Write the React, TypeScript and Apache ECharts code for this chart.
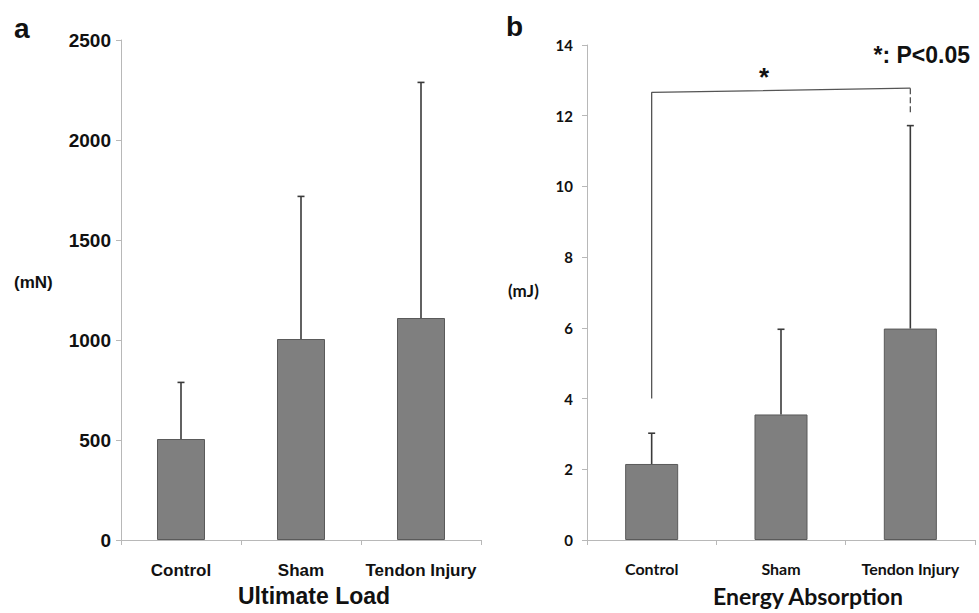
import React, { useEffect, useRef } from "react";
import * as echarts from "echarts";

const categories = ["Control", "Sham", "Tendon Injury"];
const loadCategoryLabels = ["Control", "Sham", "Tendon Injury"];
const loadMeans = [505, 1005, 1110];
const loadUpper = [788, 1718, 2288];
const energyMeans = [2.15, 3.55, 5.98];
const energyUpper = [3.02, 5.96, 11.72];
const loadTicks = { min: 0, max: 2500, interval: 500 };
const energyTicks = { min: 0, max: 14, interval: 2 };
const bracketPath = [[0, 4.0], [0, 12.66], [2, 12.78]];
const bracketDash = [[2, 12.78], [2, 12.05]];

const LEFT_FONT = "'Liberation Sans', Arial, sans-serif";
const RIGHT_FONT = "Lato, 'Open Sans', sans-serif";

function errorSeries(xAxisIndex: number, yAxisIndex: number, means: number[], upper: number[]) {
  return {
    type: "custom",
    xAxisIndex,
    yAxisIndex,
    z: 5,
    data: means.map((m, i) => [i, m, upper[i]]),
    renderItem: (params: any, api: any) => {
      const base = api.coord([api.value(0), api.value(1)]);
      const top = api.coord([api.value(0), api.value(2)]);
      const style = { stroke: "#3a3a3a", lineWidth: 1.6 };
      return {
        type: "group",
        children: [
          { type: "line", shape: { x1: top[0], y1: base[1], x2: top[0], y2: top[1] }, style },
          { type: "line", shape: { x1: top[0] - 3.5, y1: top[1], x2: top[0] + 3.5, y2: top[1] }, style },
        ],
      };
    },
  };
}

export default function App() {
  const ref = useRef<HTMLDivElement>(null);
  useEffect(() => {
    if (!ref.current) return;
    const chart = echarts.init(ref.current, undefined, { renderer: "svg" });
    const axisLine = { show: true, lineStyle: { color: "#b8b8b8", width: 1 } };
    const axisTick = { show: true, length: 5, lineStyle: { color: "#b8b8b8" } };
    chart.setOption({
      animation: false,
      backgroundColor: "#ffffff",
      grid: [
        { left: 121, right: 498, top: 40, bottom: 73 },
        { left: 587, right: 4, top: 45, bottom: 73 },
      ],
      xAxis: [
        {
          type: "category",
          gridIndex: 0,
          data: loadCategoryLabels,
          axisLine,
          axisTick,
          axisLabel: { color: "#111", fontFamily: LEFT_FONT, fontWeight: "bold", fontSize: 17, margin: 22, interval: 0, hideOverlap: false },
        },
        {
          type: "category",
          gridIndex: 1,
          data: categories,
          axisLine,
          axisTick,
          axisLabel: { color: "#111", fontFamily: RIGHT_FONT, fontWeight: "bold", fontSize: 16, margin: 20, interval: 0 },
        },
      ],
      yAxis: [
        {
          type: "value",
          gridIndex: 0,
          min: loadTicks.min,
          max: loadTicks.max,
          interval: loadTicks.interval,
          splitLine: { show: false },
          axisLine,
          axisTick,
          axisLabel: { color: "#111", fontFamily: LEFT_FONT, fontWeight: "bold", fontSize: 19, margin: 10, formatter: (v: number) => String(v) },
        },
        {
          type: "value",
          gridIndex: 1,
          min: energyTicks.min,
          max: energyTicks.max,
          interval: energyTicks.interval,
          splitLine: { show: false },
          axisLine,
          axisTick,
          axisLabel: { color: "#111", fontFamily: RIGHT_FONT, fontWeight: "bold", fontSize: 15, margin: 14 },
        },
      ],
      series: [
        {
          type: "bar",
          xAxisIndex: 0,
          yAxisIndex: 0,
          data: loadMeans,
          barWidth: "40%",
          itemStyle: { color: "#7f7f7f", borderColor: "#5a5a5a", borderWidth: 1 },
        },
        {
          type: "bar",
          xAxisIndex: 1,
          yAxisIndex: 1,
          data: energyMeans,
          barWidth: "41%",
          itemStyle: { color: "#7f7f7f", borderColor: "#5a5a5a", borderWidth: 1 },
        },
        errorSeries(0, 0, loadMeans, loadUpper),
        errorSeries(1, 1, energyMeans, energyUpper),
        {
          type: "line",
          xAxisIndex: 1,
          yAxisIndex: 1,
          data: bracketPath,
          symbol: "none",
          lineStyle: { color: "#555", width: 1.3 },
          z: 6,
        },
        {
          type: "line",
          xAxisIndex: 1,
          yAxisIndex: 1,
          data: bracketDash,
          symbol: "none",
          lineStyle: { color: "#555", width: 1.3, type: [6, 3] },
          z: 6,
        },
      ],
      graphic: [
        { type: "text", left: 14, top: 14, style: { text: "a", font: `bold 28px ${LEFT_FONT}`, fill: "#111" } },
        { type: "text", left: 506, top: 12, style: { text: "b", font: `bold 28px ${LEFT_FONT}`, fill: "#111" } },
        { type: "text", left: 14, top: 274, style: { text: "(mN)", font: `bold 17px ${LEFT_FONT}`, fill: "#111" } },
        { type: "text", left: 508, top: 282, style: { text: "(mJ)", font: `bold 17px ${RIGHT_FONT}`, fill: "#111" } },
        { type: "text", left: 238, top: 584, style: { text: "Ultimate Load", font: `bold 23px ${LEFT_FONT}`, fill: "#111" } },
        { type: "text", left: 713, top: 584, style: { text: "Energy Absorption", font: `bold 23px ${RIGHT_FONT}`, fill: "#111" } },
        { type: "text", left: 759, top: 64, style: { text: "*", font: `bold 26px ${LEFT_FONT}`, fill: "#111" } },
        { type: "text", right: 9, top: 43, style: { text: "*: P<0.05", font: `bold 23px ${LEFT_FONT}`, fill: "#111" } },
      ],
    });
    return () => chart.dispose();
  }, []);
  return <div ref={ref} style={{ width: 979, height: 613, position: "absolute", left: 0, top: 0 }} />;
}
